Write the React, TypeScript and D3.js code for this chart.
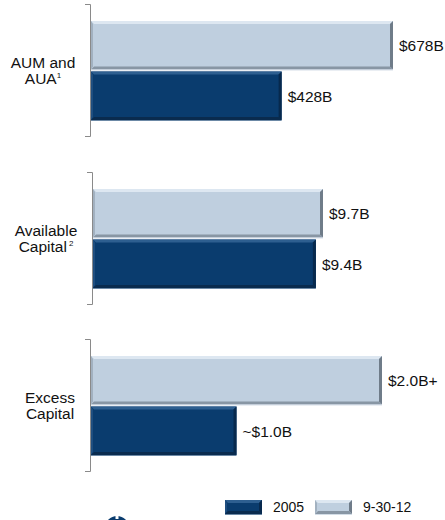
import React from "react";
import * as d3 from "d3";

// ---- data ----
const categories = ["AUM and AUA", "Available Capital", "Excess Capital"];
const labelLines = [["AUM and", "AUA"], ["Available", "Capital"], ["Excess", "Capital"]];
const labelSups = ["1", "2", ""];
const seriesNames = ["2005", "9-30-12"];
const values2005 = [428, 9.4, 1.0];
const values2012 = [678, 9.7, 2.0];
const valueLabels2005 = ["$428B", "$9.4B", "~$1.0B"];
const valueLabels2012 = ["$678B", "$9.7B", "$2.0B+"];

// ---- layout ----
const W = 445;
const H = 520;
const panelTop = [4, 172, 339];
const panelH = 132;
const axisX = [90, 92, 90];
const barMaxPx = [302, 230, 291];
const labelCx = [43, 46, 50];
const FONT = "'Liberation Sans', Arial, Helvetica, sans-serif";

const COLORS: Record<string, any> = {
  "2005": { base: "#0A3C6E", top: "#2E5F90", left: "#1F4E7F", right: "#07294D", bottom: "#0A2B4E", under: "#6C89A6" },
  "9-30-12": { base: "#BFCFDF", top: "#DDE7F1", left: "#A2B1C0", right: "#6F7C89", bottom: "#8896A4", under: "#D3DDE7" },
};

function BevelBar({ x, y, w, h, series }: { x: number; y: number; w: number; h: number; series: string }) {
  const c = COLORS[series];
  const e = 3;
  return (
    <g>
      <rect x={x} y={y} width={w} height={h} fill={c.base} />
      <polygon points={`${x},${y} ${x + w},${y} ${x + w - e},${y + e} ${x + e},${y + e}`} fill={c.top} />
      <polygon points={`${x},${y} ${x + e - 1},${y + e} ${x + e - 1},${y + h - e} ${x},${y + h}`} fill={c.left} />
      <polygon points={`${x + w},${y} ${x + w},${y + h} ${x + w - e},${y + h - e} ${x + w - e},${y + e}`} fill={c.right} />
      <polygon points={`${x},${y + h} ${x + w},${y + h} ${x + w - e},${y + h - e} ${x + e},${y + h - e}`} fill={c.bottom} />
      <line x1={x} x2={x + w} y1={y + h + 0.5} y2={y + h + 0.5} stroke={c.under} strokeWidth={1} />
    </g>
  );
}

export default function App() {
  const panels = categories.map((cat, i) => {
    const y0 = panelTop[i];
    const y1 = y0 + panelH;
    const ax = axisX[i];
    const yScale = d3.scaleBand<string>().domain(["9-30-12", "2005"]).range([y0 + 17, y1 - 16]).paddingInner(0.04);
    const xScale = d3
      .scaleLinear()
      .domain([0, Math.max(values2005[i], values2012[i])])
      .range([ax + 1, ax + 1 + barMaxPx[i]]);
    const bars = [
      { s: "9-30-12", v: values2012[i], lab: valueLabels2012[i] },
      { s: "2005", v: values2005[i], lab: valueLabels2005[i] },
    ];
    const cy = (y0 + y1) / 2;
    const lines = labelLines[i];
    return (
      <g key={cat}>
        {bars.map((b) => {
          const by = yScale(b.s)!;
          const bh = yScale.bandwidth();
          const bx = xScale(0);
          const bw = xScale(b.v) - bx;
          return (
            <g key={b.s}>
              <BevelBar x={bx} y={by} w={bw} h={bh} series={b.s} />
              <text x={bx + bw + 6} y={by + bh / 2 + 6} fontSize={15.5} fontFamily={FONT} fill="#111">
                {b.lab}
              </text>
            </g>
          );
        })}
        <path d={`M${ax - 5},${y0 + 0.5}H${ax + 0.5}V${y1 + 0.5}H${ax - 5}`} fill="none" stroke="#8a8a8a" strokeWidth={1} />
        <text x={labelCx[i]} y={cy - 2} textAnchor="middle" fontSize={15.5} fontFamily={FONT} fill="#111">
          {lines[0]}
        </text>
        <text x={labelCx[i]} y={cy + 14} textAnchor="middle" fontSize={15.5} fontFamily={FONT} fill="#111">
          {lines[1]}
          {labelSups[i] ? (
            <tspan fontSize={8} dy={-6} dx={i === 1 ? 2 : 0}>
              {labelSups[i]}
            </tspan>
          ) : null}
        </text>
      </g>
    );
  });

  const legendX = [225, 315];
  return (
    <svg
      width={W}
      height={H}
      style={{ position: "absolute", left: 0, top: 0, background: "#fff" }}
      fontFamily={FONT}
    >
      <rect width={W} height={H} fill="#fff" />
      {panels}
      {seriesNames.map((s, i) => (
        <g key={s}>
          <BevelBar x={legendX[i]} y={500} w={37} h={14} series={s} />
          <text x={legendX[i] + 48} y={512} fontSize={14} fontFamily={FONT} fill="#111">
            {s}
          </text>
        </g>
      ))}
      <circle cx={117} cy={528} r={12} fill="#0A3C6E" />
      <rect x={115.5} y={516} width={3} height={3} fill="#fff" />
    </svg>
  );
}
